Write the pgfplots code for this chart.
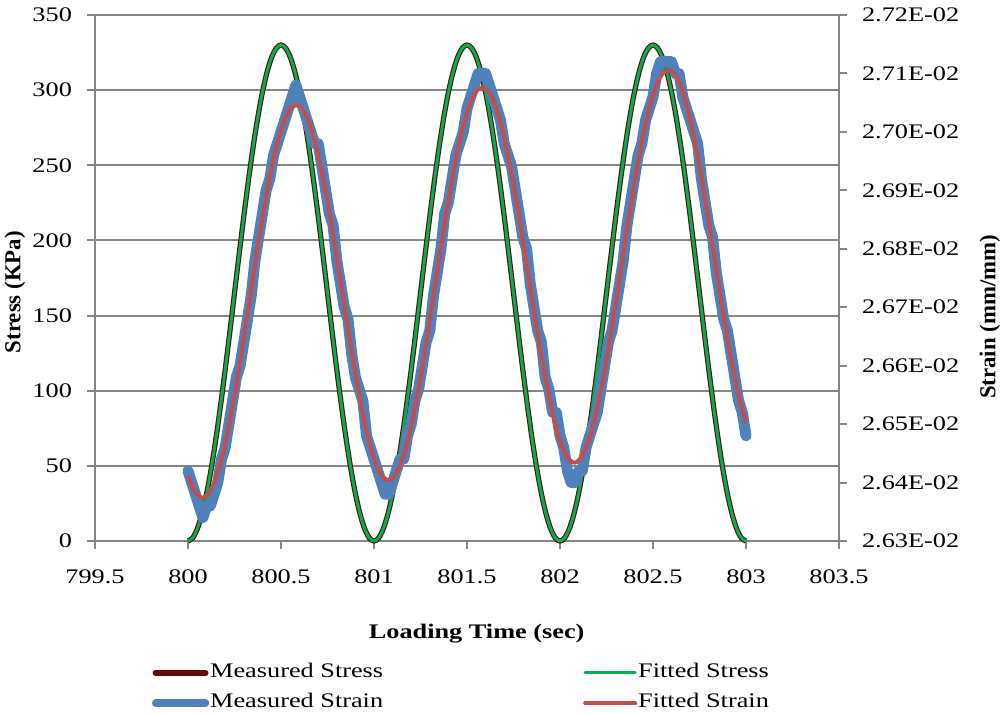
\documentclass[border=0pt]{standalone}
\usepackage{fontspec}
\setmainfont{Liberation Serif}[FakeStretch=1.27]
\newfontfamily\uprightlabelfont{Liberation Serif}
\usepackage{pgfplots}
\usepackage{pgfplotstable}
\pgfplotsset{compat=1.18}

\definecolor{mstress}{RGB}{99,10,10}
\definecolor{fstress}{RGB}{0,176,80}
\definecolor{mstrain}{RGB}{79,129,189}
\definecolor{fstrain}{RGB}{192,80,77}
\definecolor{axisgray}{RGB}{134,134,134}

\newcommand\tickfont{\fontsize{10.35}{12}\selectfont}

% stress (KPa): measured and fitted
\pgfplotstableread{
t meas fit
800.000 0 0
800.025 2.0 2.0
800.050 8.1 8.1
800.075 18.0 18.0
800.100 31.5 31.5
800.125 48.3 48.3
800.150 68.0 68.0
800.175 90.1 90.1
800.200 114.0 114.0
800.225 139.2 139.2
800.250 165.0 165.0
800.275 190.8 190.8
800.300 216.0 216.0
800.325 239.9 239.9
800.350 262.0 262.0
800.375 281.7 281.7
800.400 298.5 298.5
800.425 312.0 312.0
800.450 321.9 321.9
800.475 328.0 328.0
800.500 330.0 330.0
800.525 328.0 328.0
800.550 321.9 321.9
800.575 312.0 312.0
800.600 298.5 298.5
800.625 281.7 281.7
800.650 262.0 262.0
800.675 239.9 239.9
800.700 216.0 216.0
800.725 190.8 190.8
800.750 165.0 165.0
800.775 139.2 139.2
800.800 114.0 114.0
800.825 90.1 90.1
800.850 68.0 68.0
800.875 48.3 48.3
800.900 31.5 31.5
800.925 18.0 18.0
800.950 8.1 8.1
800.975 2.0 2.0
801.000 0 0
801.025 2.0 2.0
801.050 8.1 8.1
801.075 18.0 18.0
801.100 31.5 31.5
801.125 48.3 48.3
801.150 68.0 68.0
801.175 90.1 90.1
801.200 114.0 114.0
801.225 139.2 139.2
801.250 165.0 165.0
801.275 190.8 190.8
801.300 216.0 216.0
801.325 239.9 239.9
801.350 262.0 262.0
801.375 281.7 281.7
801.400 298.5 298.5
801.425 312.0 312.0
801.450 321.9 321.9
801.475 328.0 328.0
801.500 330.0 330.0
801.525 328.0 328.0
801.550 321.9 321.9
801.575 312.0 312.0
801.600 298.5 298.5
801.625 281.7 281.7
801.650 262.0 262.0
801.675 239.9 239.9
801.700 216.0 216.0
801.725 190.8 190.8
801.750 165.0 165.0
801.775 139.2 139.2
801.800 114.0 114.0
801.825 90.1 90.1
801.850 68.0 68.0
801.875 48.3 48.3
801.900 31.5 31.5
801.925 18.0 18.0
801.950 8.1 8.1
801.975 2.0 2.0
802.000 0 0
802.025 2.0 2.0
802.050 8.1 8.1
802.075 18.0 18.0
802.100 31.5 31.5
802.125 48.3 48.3
802.150 68.0 68.0
802.175 90.1 90.1
802.200 114.0 114.0
802.225 139.2 139.2
802.250 165.0 165.0
802.275 190.8 190.8
802.300 216.0 216.0
802.325 239.9 239.9
802.350 262.0 262.0
802.375 281.7 281.7
802.400 298.5 298.5
802.425 312.0 312.0
802.450 321.9 321.9
802.475 328.0 328.0
802.500 330.0 330.0
802.525 328.0 328.0
802.550 321.9 321.9
802.575 312.0 312.0
802.600 298.5 298.5
802.625 281.7 281.7
802.650 262.0 262.0
802.675 239.9 239.9
802.700 216.0 216.0
802.725 190.8 190.8
802.750 165.0 165.0
802.775 139.2 139.2
802.800 114.0 114.0
802.825 90.1 90.1
802.850 68.0 68.0
802.875 48.3 48.3
802.900 31.5 31.5
802.925 18.0 18.0
802.950 8.1 8.1
802.975 2.0 2.0
803.000 0 0
}\stresstab

% measured strain (mm/mm), quantised readings
\pgfplotstableread{
t strain
800.00 0.02642
800.02 0.02640
800.04 0.02638
800.06 0.02636
800.08 0.02634
800.10 0.02636
800.12 0.02636
800.14 0.02638
800.16 0.02640
800.18 0.02644
800.20 0.02646
800.22 0.02650
800.24 0.02654
800.26 0.02658
800.28 0.02660
800.30 0.02664
800.32 0.02668
800.34 0.02672
800.36 0.02678
800.38 0.02682
800.40 0.02686
800.42 0.02690
800.44 0.02692
800.46 0.02696
800.48 0.02698
800.50 0.02700
800.52 0.02702
800.54 0.02704
800.56 0.02706
800.58 0.02708
800.60 0.02706
800.62 0.02704
800.64 0.02702
800.66 0.02700
800.68 0.02698
800.70 0.02698
800.72 0.02694
800.74 0.02690
800.76 0.02686
800.78 0.02684
800.80 0.02678
800.82 0.02674
800.84 0.02670
800.86 0.02668
800.88 0.02662
800.90 0.02658
800.92 0.02656
800.94 0.02654
800.96 0.02648
800.98 0.02646
801.00 0.02644
801.02 0.02642
801.04 0.02640
801.06 0.02638
801.08 0.02638
801.10 0.02640
801.12 0.02642
801.14 0.02644
801.16 0.02644
801.18 0.02648
801.20 0.02650
801.22 0.02654
801.24 0.02656
801.26 0.02660
801.28 0.02664
801.30 0.02666
801.32 0.02672
801.34 0.02676
801.36 0.02680
801.38 0.02686
801.40 0.02688
801.42 0.02692
801.44 0.02696
801.46 0.02698
801.48 0.02700
801.50 0.02704
801.52 0.02706
801.54 0.02708
801.56 0.02710
801.58 0.02710
801.60 0.02710
801.62 0.02708
801.64 0.02706
801.66 0.02704
801.68 0.02702
801.70 0.02698
801.72 0.02696
801.74 0.02694
801.76 0.02690
801.78 0.02686
801.80 0.02682
801.82 0.02680
801.84 0.02674
801.86 0.02670
801.88 0.02666
801.90 0.02664
801.92 0.02658
801.94 0.02656
801.96 0.02652
801.98 0.02652
802.00 0.02648
802.02 0.02646
802.04 0.02642
802.06 0.02640
802.08 0.02640
802.10 0.02642
802.12 0.02642
802.14 0.02646
802.16 0.02648
802.18 0.02650
802.20 0.02652
802.22 0.02656
802.24 0.02660
802.26 0.02664
802.28 0.02666
802.30 0.02670
802.32 0.02674
802.34 0.02678
802.36 0.02684
802.38 0.02688
802.40 0.02692
802.42 0.02696
802.44 0.02698
802.46 0.02702
802.48 0.02704
802.50 0.02706
802.52 0.02710
802.54 0.02712
802.56 0.02712
802.58 0.02712
802.60 0.02712
802.62 0.02710
802.64 0.02710
802.66 0.02706
802.68 0.02704
802.70 0.02702
802.72 0.02700
802.74 0.02698
802.76 0.02692
802.78 0.02688
802.80 0.02684
802.82 0.02682
802.84 0.02676
802.86 0.02672
802.88 0.02668
802.90 0.02666
802.92 0.02662
802.94 0.02658
802.96 0.02654
802.98 0.02652
803.00 0.02648
}\mstraintab

% fitted strain (mm/mm)
\pgfplotstableread{
t strain
800.00 0.026412
800.04 0.026383
800.08 0.026374
800.12 0.026386
800.16 0.026417
800.20 0.026467
800.24 0.026531
800.28 0.026607
800.32 0.026689
800.36 0.026772
800.40 0.026852
800.44 0.026923
800.48 0.026980
800.52 0.027021
800.56 0.027043
800.60 0.027044
800.64 0.027025
800.68 0.026986
800.72 0.026931
800.76 0.026863
800.80 0.026786
800.84 0.026705
800.88 0.026625
800.92 0.026552
800.96 0.026489
801.00 0.026442
801.04 0.026413
801.08 0.026404
801.12 0.026416
801.16 0.026447
801.20 0.026497
801.24 0.026561
801.28 0.026637
801.32 0.026719
801.36 0.026802
801.40 0.026882
801.44 0.026953
801.48 0.027010
801.52 0.027051
801.56 0.027073
801.60 0.027074
801.64 0.027055
801.68 0.027016
801.72 0.026961
801.76 0.026893
801.80 0.026816
801.84 0.026735
801.88 0.026655
801.92 0.026582
801.96 0.026519
802.00 0.026472
802.04 0.026443
802.08 0.026434
802.12 0.026446
802.16 0.026477
802.20 0.026527
802.24 0.026591
802.28 0.026667
802.32 0.026749
802.36 0.026832
802.40 0.026912
802.44 0.026983
802.48 0.027040
802.52 0.027081
802.56 0.027103
802.60 0.027104
802.64 0.027085
802.68 0.027046
802.72 0.026991
802.76 0.026923
802.80 0.026846
802.84 0.026765
802.88 0.026685
802.92 0.026612
802.96 0.026549
803.00 0.026502
}\fstraintab

\pgfplotsset{
  common/.style={
    scale only axis, width=372pt, height=263pt,
    xmin=799.5, xmax=803.5,
    scaled x ticks=false, scaled y ticks=false,
    axis line style={-, axisgray, line width=1pt},
    tick align=outside, major tick length=4pt,
    tick style={axisgray, line width=1pt},
    tick label style={font=\tickfont, text=black},
  },
  mstressstyle/.style={mstress, line width=2.6pt, smooth},
  fstressstyle/.style={fstress, line width=1.5pt, smooth},
  mstrainstyle/.style={mstrain, line width=5.5pt, sharp plot, line join=round, line cap=round},
  fstrainstyle/.style={fstrain, line width=2pt, smooth},
}

\begin{document}
\begin{tikzpicture}
% primary axis: stress
\begin{axis}[common, name=main,
  ymin=0, ymax=350,
  xtick={799.5,800,800.5,801,801.5,802,802.5,803,803.5},
  xticklabels={799.5,800,800.5,801,801.5,802,802.5,803,803.5},
  ytick={0,50,100,150,200,250,300,350},
  yticklabels={0,50,100,150,200,250,300,350},
  axis x line*=bottom, axis y line*=left,
  ymajorgrids, grid style={axisgray, line width=1pt},
  clip=false,
  xticklabel style={anchor=north, yshift=-7pt},
  yticklabel style={anchor=east, xshift=-4pt},
  xlabel={\bfseries Loading Time (sec)},
  every axis x label/.style={at={(axis description cs:0.513,0)}, yshift=-46.5pt, anchor=center, font=\tickfont},
  ylabel={\uprightlabelfont\bfseries Stress (KPa)},
  every axis y label/.style={at={(axis description cs:0,0.473)}, xshift=-40pt, anchor=center, rotate=90, inner sep=0pt, font=\fontsize{11.4}{13}\selectfont},
]
\addplot[mstressstyle] table[x=t, y=meas] {\stresstab};
\addplot[fstressstyle] table[x=t, y=fit] {\stresstab};
\end{axis}

% secondary axis: strain
\begin{axis}[common,
  ymin=0.0263, ymax=0.0272,
  hide x axis,
  axis y line*=right,
  ytick={0.0263,0.0264,0.0265,0.0266,0.0267,0.0268,0.0269,0.0270,0.0271,0.0272},
  yticklabels={2.63E-02,2.64E-02,2.65E-02,2.66E-02,2.67E-02,2.68E-02,2.69E-02,2.70E-02,2.71E-02,2.72E-02},
  yticklabel style={anchor=west, xshift=4pt},
  ylabel={\uprightlabelfont\bfseries Strain (mm/mm)},
  every axis y label/.style={at={(axis description cs:1,0.426)}, xshift=75.5pt, anchor=center, rotate=90, inner sep=0pt, font=\fontsize{11.4}{13}\selectfont},
  legend style={at={(axis description cs:0.0766,-0.230)}, anchor=north west,
    draw=none, fill=none, inner sep=0pt, outer sep=0pt,
    font=\tickfont, row sep=4pt,
    nodes={inner sep=0.5pt, text height=7.5pt, text depth=2.5pt},
    /tikz/column 2/.style={column sep=99.5pt}},
  legend columns=2,
  legend cell align=left,
  legend image code/.code={\draw[#1, line cap=round] (1.5pt,0pt) -- (26.5pt,0pt);},
]
\addlegendimage{mstress, line width=3pt}
\addlegendentry{Measured Stress}
\addlegendimage{fstress, line width=1.5pt}
\addlegendentry{Fitted Stress}
\addplot[mstrainstyle, legend image code/.code={\draw[mstrain, line width=3.6pt, line cap=round] (1.5pt,0pt) -- (26.5pt,0pt);}]
  table[x=t, y=strain] {\mstraintab};
\addlegendentry{Measured Strain}
\addplot[fstrainstyle, legend image code/.code={\draw[fstrain, line width=2pt, line cap=round] (1.5pt,0pt) -- (26.5pt,0pt);}]
  table[x=t, y=strain] {\fstraintab};
\addlegendentry{Fitted Strain}
\end{axis}

% page frame
\path (main.south west) ++(-47.5pt,-85.5pt) rectangle ++(501pt,356pt);
\end{tikzpicture}
\end{document}
